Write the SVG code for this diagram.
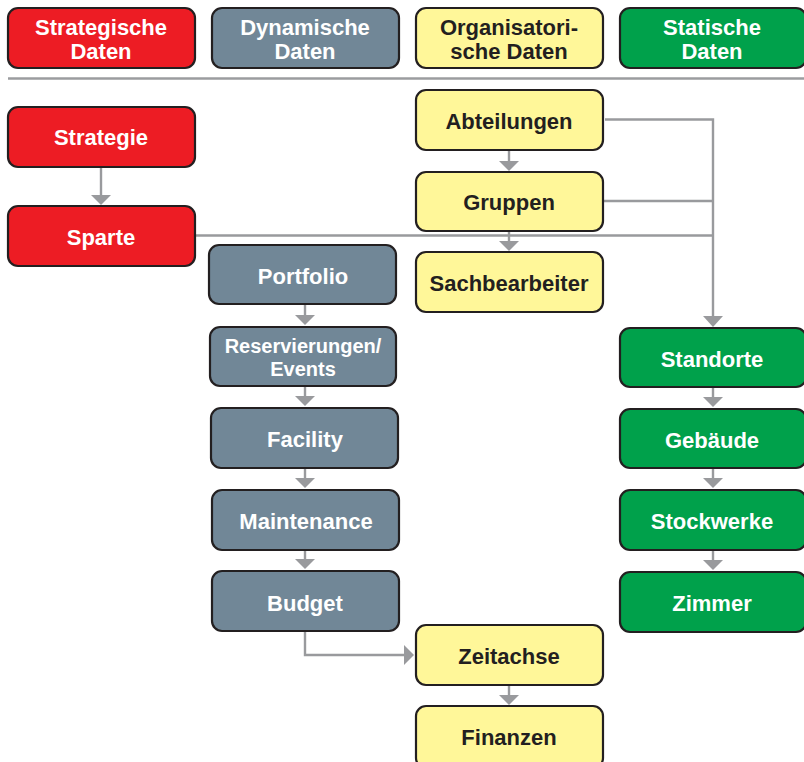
<svg xmlns="http://www.w3.org/2000/svg" width="804" height="762" viewBox="0 0 804 762">
<defs>
<style>
.b{stroke:#231f20;stroke-width:2.2}
.r{fill:#ed1c24}.g{fill:#718797}.y{fill:#fff799}.n{fill:#00a14b}
text{font-family:"Liberation Sans",Arial,sans-serif;font-weight:bold;font-size:22px;text-anchor:middle}
.w{fill:#ffffff}.k{fill:#231f20}
.c{stroke:#999a9d;stroke-width:2.4;fill:none}
</style>
</defs>
<rect width="804" height="762" fill="#ffffff"/>
<g id="legend-strategisch"><rect class="b r" x="8" y="8" width="187" height="60" rx="10"/><text class="w" x="101" y="35">Strategische</text><text class="w" x="101" y="59">Daten</text></g>
<g id="legend-dynamisch"><rect class="b g" x="212" y="8" width="187" height="60" rx="10"/><text class="w" x="305" y="35">Dynamische</text><text class="w" x="305" y="59">Daten</text></g>
<g id="legend-organisatorisch"><rect class="b y" x="416" y="8" width="187" height="60" rx="10"/><text class="k" x="509" y="35">Organisatori-</text><text class="k" x="509" y="59">sche Daten</text></g>
<g id="legend-statisch"><rect class="b n" x="620" y="8" width="186" height="60" rx="10"/><text class="w" x="712" y="35">Statische</text><text class="w" x="712" y="59">Daten</text></g>
<line x1="8" y1="78.5" x2="804" y2="78.5" stroke="#9b9c9f" stroke-width="2.5"/>
<g id="connectors">
<path class="c" d="M101,167 V195" />
<path d="M91,195 L111,195 L101,205 z" fill="#999a9d"/>
<path class="c" d="M509,150 V162"/>
<path d="M499,161 L519,161 L509,171 z" fill="#999a9d"/>
<path class="c" d="M509,231 V242"/>
<path d="M499,241 L519,241 L509,251 z" fill="#999a9d"/>
<path class="c" d="M605,119.5 H713 V317"/>
<path d="M703,316 L723,316 L713,327 z" fill="#999a9d"/>
<path class="c" d="M603,201 H713"/>
<path class="c" d="M195,235.5 H713"/>
<path class="c" d="M305,304 V316"/>
<path d="M295,315 L315,315 L305,325 z" fill="#999a9d"/>
<path class="c" d="M305,386 V397"/>
<path d="M295,396 L315,396 L305,406 z" fill="#999a9d"/>
<path class="c" d="M305,468 V479"/>
<path d="M295,478 L315,478 L305,488 z" fill="#999a9d"/>
<path class="c" d="M305,550 V560"/>
<path d="M295,559 L315,559 L305,569 z" fill="#999a9d"/>
<path class="c" d="M305,631 V655 H405"/>
<path d="M404,645 L414,655 L404,665 z" fill="#999a9d"/>
<path class="c" d="M509,685 V696"/>
<path d="M499,695 L519,695 L509,705 z" fill="#999a9d"/>
<path class="c" d="M713,387 V398"/>
<path d="M703,397 L723,397 L713,407 z" fill="#999a9d"/>
<path class="c" d="M713,468 V479"/>
<path d="M703,478 L723,478 L713,488 z" fill="#999a9d"/>
<path class="c" d="M713,550 V561"/>
<path d="M703,560 L723,560 L713,570 z" fill="#999a9d"/>
</g>
<g id="strategie"><rect class="b r" x="8" y="107" width="187" height="60" rx="10"/><text class="w" x="101" y="145">Strategie</text></g>
<g id="sparte"><rect class="b r" x="8" y="206" width="187" height="60" rx="10"/><text class="w" x="101" y="245">Sparte</text></g>
<g id="abteilungen"><rect class="b y" x="416" y="90" width="187" height="60" rx="10"/><text class="k" x="509" y="129">Abteilungen</text></g>
<g id="gruppen"><rect class="b y" x="416" y="172" width="187" height="59" rx="10"/><text class="k" x="509" y="210">Gruppen</text></g>
<g id="sachbearbeiter"><rect class="b y" x="416" y="252" width="187" height="60" rx="10"/><text class="k" x="509" y="291">Sachbearbeiter</text></g>
<g id="portfolio"><rect class="b g" x="209" y="245" width="187" height="59" rx="10"/><text class="w" x="303" y="284">Portfolio</text></g>
<g id="reservierungen"><rect class="b g" x="210" y="327" width="186" height="59" rx="10"/><text class="w" x="303" y="353" style="font-size:20px">Reservierungen/</text><text class="w" x="303" y="376" style="font-size:20px">Events</text></g>
<g id="facility"><rect class="b g" x="211" y="408" width="187" height="60" rx="10"/><text class="w" x="305" y="447">Facility</text></g>
<g id="maintenance"><rect class="b g" x="212" y="490" width="187" height="60" rx="10"/><text class="w" x="306" y="529">Maintenance</text></g>
<g id="budget"><rect class="b g" x="212" y="571" width="187" height="60" rx="10"/><text class="w" x="305" y="611">Budget</text></g>
<g id="zeitachse"><rect class="b y" x="416" y="625" width="187" height="60" rx="10"/><text class="k" x="509" y="664">Zeitachse</text></g>
<g id="finanzen"><rect class="b y" x="416" y="706" width="187" height="62" rx="10"/><text class="k" x="509" y="745">Finanzen</text></g>
<g id="standorte"><rect class="b n" x="620" y="328" width="186" height="59" rx="10"/><text class="w" x="712" y="367">Standorte</text></g>
<g id="gebaeude"><rect class="b n" x="620" y="409" width="186" height="59" rx="10"/><text class="w" x="712" y="448">Gebäude</text></g>
<g id="stockwerke"><rect class="b n" x="620" y="490" width="186" height="60" rx="10"/><text class="w" x="712" y="529">Stockwerke</text></g>
<g id="zimmer"><rect class="b n" x="620" y="572" width="186" height="60" rx="10"/><text class="w" x="712" y="611">Zimmer</text></g>
</svg>
